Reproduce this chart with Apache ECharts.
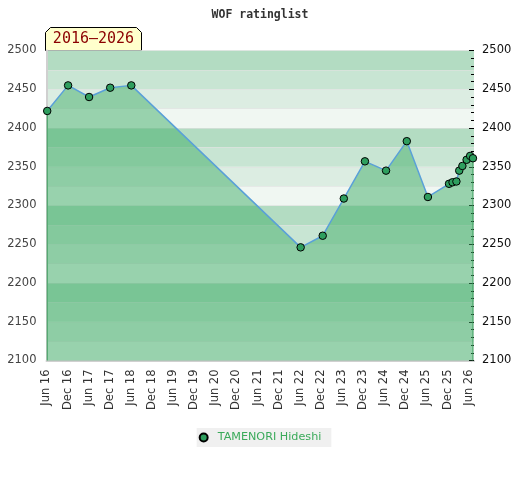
<!DOCTYPE html>
<html>
<head>
<meta charset="utf-8">
<script src="https://cdn.jsdelivr.net/npm/echarts@6/dist/echarts.min.js"></script>
<style>html,body{margin:0;padding:0;background:#fff;}#c{width:520px;height:480px;}</style>
</head>
<body>
<div id="c"></div>
<script>
const playerName = 'TAMENORI Hideshi';
const listDates = ['2016-06-07','2016-12-05','2017-06-04','2017-12-04','2018-06-04','2022-06-08','2022-12-16','2023-06-16','2023-12-16','2024-06-16','2024-12-13','2025-06-13','2025-12-13','2026-01-13','2026-02-16','2026-03-10','2026-04-07','2026-05-13','2026-06-13','2026-07-07'];
const ratings = [2422,2455,2440,2452,2455,2246,2261,2309,2357,2345,2383,2311,2328,2330,2331,2345,2351,2359,2364,2361];
const yTicks = [2100,2150,2200,2250,2300,2350,2400,2450,2500];
const monthNames = ['Jan','Feb','Mar','Apr','May','Jun','Jul','Aug','Sep','Oct','Nov','Dec'];

function toMonth(s){const p=s.split('-').map(Number);return (p[0]-2016)*12+(p[1]-6)+(p[2]-1)/30;}
const xs = listDates.map(toMonth);
const pts = xs.map((x,i)=>[x,ratings[i]]);
const yMin = yTicks[0], yMax = yTicks[yTicks.length-1];
const leftEdge = [[xs[0],yMin],[xs[0],ratings[0]]];
const rightEdge = [[xs[xs.length-1],yMin],[xs[xs.length-1],ratings[ratings.length-1]]];

function fmtMonth(v){
  if (Math.abs(v - Math.round(v))>1e-6 || Math.round(v)%6!==0) return '';
  const idx = Math.round(v)+5;
  const y = 2016+Math.floor(idx/12);
  return monthNames[idx%12]+' '+String(y%100).padStart(2,'0');
}
const fmtY = v => String(v);

const chart = echarts.init(document.getElementById('c'));
chart.setOption({
  animation:false,
  backgroundColor:'#fff',
  title:{text:'WOF ratinglist',left:'center',top:4,textStyle:{fontFamily:'DejaVu Sans Mono',fontWeight:'bold',fontSize:11.5,color:'#333'}},
  grid:{left:46.5,right:46,top:50.5,bottom:119.5},
  legend:{data:[playerName],bottom:33,left:'center',icon:'circle',itemWidth:18,itemHeight:8,itemGap:8,backgroundColor:'#f0f0f0',padding:[4,10,4,2],
    textStyle:{color:'#3aaa5a',fontFamily:'DejaVu Sans',fontSize:11.2}},
  xAxis:{type:'value',min:0,max:121.5,interval:6,
    axisLine:{show:true,lineStyle:{color:'#d0d0d0',width:2}},axisTick:{show:false},splitLine:{show:false},
    axisLabel:{rotate:90,margin:9,formatter:fmtMonth,showMaxLabel:false,color:'#333',fontFamily:'DejaVu Sans',fontSize:11.5}},
  yAxis:[
    {type:'value',min:yMin,max:yMax,interval:50,position:'left',
      axisLine:{show:true,lineStyle:{color:'#d0d0d0',width:2}},axisTick:{show:false},splitLine:{show:false},
      axisLabel:{margin:10,formatter:fmtY,color:'#444',fontFamily:'DejaVu Sans',fontSize:11.5}},
    {type:'value',min:yMin,max:yMax,interval:50,position:'right',
      axisLine:{show:false},axisTick:{show:true,inside:true,length:5,lineStyle:{color:'#000'}},
      minorTick:{show:true,splitNumber:5,length:3,lineStyle:{color:'#000'}},splitLine:{show:false},
      axisLabel:{margin:8,formatter:fmtY,color:'#111',fontFamily:'DejaVu Sans',fontSize:11.5}},
    {type:'value',min:yMin,max:yMax,interval:25,position:'left',
      axisLine:{show:false},axisTick:{show:false},axisLabel:{show:false},
      splitLine:{show:true,lineStyle:{color:'rgba(225,225,225,0.6)',width:1}},
      splitArea:{show:true,areaStyle:{color:['#f0f7f2','#dcede2','#c8e5d3','#b3dcc2']}}}
  ],
  graphic:[{type:'group',left:45,top:27,children:[
    {type:'polygon',shape:{points:[[0,23],[0,5],[5,0],[91,0],[96,5],[96,23]]},style:{fill:'#ffffcc',stroke:'#000',lineWidth:1}},
    {type:'text',x:48,y:12,style:{text:'2016\u20132026',fill:'#8b0000',font:'15px "DejaVu Sans Mono"',align:'center',verticalAlign:'middle'}}
  ]}],
  series:[
    {name:playerName,type:'line',yAxisIndex:0,data:pts,z:3,
      symbol:'circle',symbolSize:7.5,
      itemStyle:{color:'#2e9e5e',borderColor:'#000',borderWidth:1},
      lineStyle:{color:'#5aa0d8',width:1.5},
      areaStyle:{origin:'start',color:'#3fae68',opacity:0.5}},
    {type:'line',yAxisIndex:0,data:leftEdge,symbol:'none',lineStyle:{color:'#3a9a5a',width:1},silent:true,z:2},
    {type:'line',yAxisIndex:0,data:rightEdge,symbol:'none',lineStyle:{color:'#3a9a5a',width:1},silent:true,z:2}
  ]
});
</script>
</body>
</html>
